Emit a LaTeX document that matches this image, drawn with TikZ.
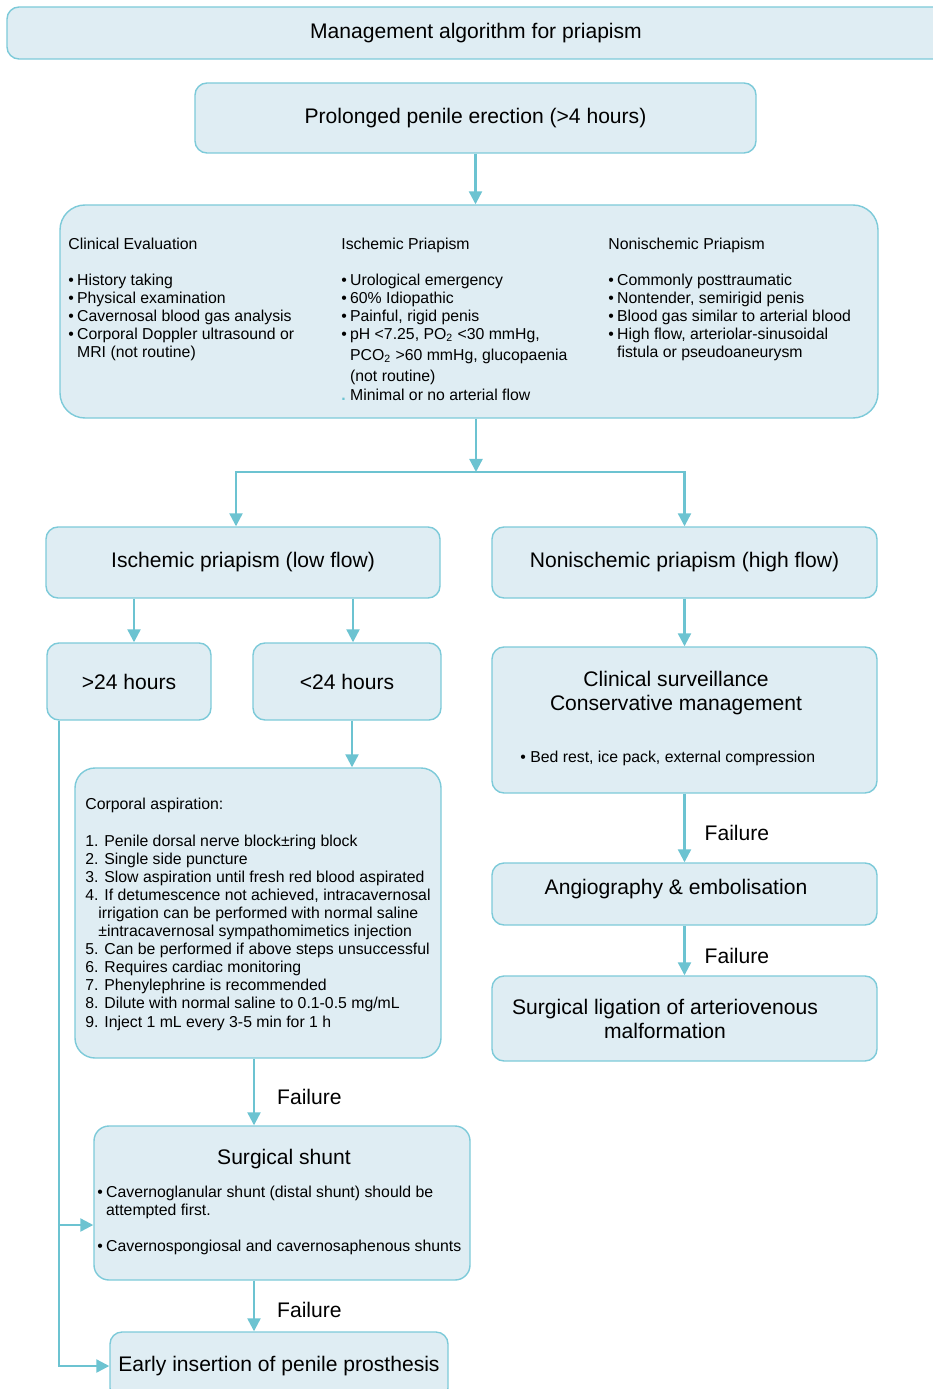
\documentclass[tikz,border=0pt]{standalone}
\usepackage{fontspec}
\setmainfont{Liberation Sans}
\usetikzlibrary{arrows.meta}
\definecolor{boxfill}{HTML}{DFEDF3}
\definecolor{boxline}{HTML}{7DCAD9}
\definecolor{flowline}{HTML}{6CC3D1}
\newcommand{\blt}{\makebox[5pt][l]{\textbullet}}
\begin{document}
\begin{tikzpicture}[
  box/.style={draw=boxline,fill=boxfill,line width=0.8pt,rounded corners=0.24cm,inner sep=0pt},
  big/.style={font=\fontsize{12}{13.6}\selectfont},
  small/.style={font=\fontsize{9}{10.2}\selectfont},
  flow/.style={draw=flowline,line width=1.3pt,-{Triangle[length=7.4pt,width=7.4pt]}},
  fail/.style={font=\fontsize{12}{13.6}\selectfont,inner sep=0pt}
]
\useasboundingbox (0,0) rectangle (18.66,-27.78);

\node[box,big,minimum width=18.76cm,minimum height=1.04cm] (title) at (9.52,-0.66) {Management algorithm for priapism};
\node[box,big,minimum width=11.22cm,minimum height=1.40cm] (onset) at (9.51,-2.36) {Prolonged penile erection (>4 hours)};

\node[box,rounded corners=0.5cm,minimum width=16.36cm,minimum height=4.26cm] (eval) at (9.38,-6.23) {};
\node[small,align=left,anchor=north west,inner sep=0pt] (evalA) at (1.36,-4.76) {Clinical Evaluation\\[10.2pt]
\blt History taking\\
\blt Physical examination\\
\blt Cavernosal blood gas analysis\\
\blt Corporal Doppler ultrasound or\\
\hspace*{5pt}MRI (not routine)};
\node[small,align=left,anchor=north west,inner sep=0pt] (evalB) at (6.82,-4.76) {Ischemic Priapism\\[10.2pt]
\blt Urological emergency\\
\blt 60\% Idiopathic\\
\blt Painful, rigid penis\\
\blt pH <7.25, PO\textsubscript{2} <30 mmHg,\\[1.7pt]
\hspace*{5pt}PCO\textsubscript{2} >60 mmHg, glucopaenia\\[1.7pt]
\hspace*{5pt}(not routine)\\[0.6pt]
\makebox[5pt][l]{\textcolor{flowline}{\textbf{.}}}Minimal or no arterial flow};
\node[small,align=left,anchor=north west,inner sep=0pt] (evalC) at (12.16,-4.76) {Nonischemic Priapism\\[10.2pt]
\blt Commonly posttraumatic\\
\blt Nontender, semirigid penis\\
\blt Blood gas similar to arterial blood\\
\blt High flow, arteriolar-sinusoidal\\
\hspace*{5pt}fistula or pseudoaneurysm};

\node[box,big,minimum width=7.88cm,minimum height=1.42cm] (isch) at (4.86,-11.25) {Ischemic priapism (low flow)};
\node[box,big,minimum width=7.70cm,minimum height=1.42cm] (nonisch) at (13.69,-11.25) {Nonischemic priapism (high flow)};
\node[box,big,minimum width=3.28cm,minimum height=1.54cm] (late) at (2.58,-13.63) {>24 hours};
\node[box,big,minimum width=3.76cm,minimum height=1.54cm] (early) at (6.94,-13.63) {<24 hours};

\node[box,rounded corners=0.4cm,minimum width=7.32cm,minimum height=5.80cm] (aspir) at (5.16,-18.26) {};
\node[font=\fontsize{9}{10.3}\selectfont,align=left,anchor=north west,inner sep=0pt] (aspirtext) at (1.70,-15.96) {Corporal aspiration:\\[10.3pt]
1. Penile dorsal nerve block±ring block\\
2. Single side puncture\\
3. Slow aspiration until fresh red blood aspirated\\
4. If detumescence not achieved, intracavernosal\\
\hspace*{7.4pt}irrigation can be performed with normal saline\\
\hspace*{7.4pt}±intracavernosal sympathomimetics injection\\
5. Can be performed if above steps unsuccessful\\
6. Requires cardiac monitoring\\
7. Phenylephrine is recommended\\
8. Dilute with normal saline to 0.1-0.5 mg/mL\\
9. Inject 1 mL every 3-5 min for 1 h};

\node[box,rounded corners=0.3cm,minimum width=7.52cm,minimum height=3.08cm] (shunt) at (5.64,-24.06) {};
\node[big,inner sep=0pt] (shunthead) at (5.68,-23.18) {Surgical shunt};
\node[small,align=left,anchor=north west,inner sep=0pt] (shunttext) at (1.94,-23.72) {\blt Cavernoglanular shunt (distal shunt) should be\\
\hspace*{5pt}attempted first.\\[10.2pt]
\blt Cavernospongiosal and cavernosaphenous shunts};

\node[box,big,minimum width=6.76cm,minimum height=1.36cm] (prosth) at (5.58,-27.32) {Early insertion of penile prosthesis};

\node[box,minimum width=7.70cm,minimum height=2.92cm] (surv) at (13.69,-14.40) {};
\node[big,align=center,inner sep=0pt] (survhead) at (13.52,-13.86) {Clinical surveillance\\Conservative management};
\node[small,anchor=west,inner sep=0pt] (survtext) at (10.40,-15.16) {\textbullet\ Bed rest, ice pack, external compression};

\node[box,minimum width=7.70cm,minimum height=1.24cm] (angio) at (13.69,-17.88) {};
\node[big,inner sep=0pt] (angiotext) at (13.52,-17.78) {Angiography \& embolisation};
\node[box,minimum width=7.70cm,minimum height=1.70cm] (ligat) at (13.69,-20.37) {};
\node[big,align=center,inner sep=0pt] (ligattext) at (13.30,-20.38) {Surgical ligation of arteriovenous\\malformation};

\coordinate (split) at (9.52,-9.44);
\draw[flow] (onset.south) -- (onset.south |- eval.north);
\draw[flow] (eval.south -| split) -- (split);
\draw[flow] (split) -| ([xshift=-0.14cm]isch.north);
\draw[flow] (split) -| (nonisch.north);
\draw[flow] ([xshift=0.1cm]late.north |- isch.south) -- ([xshift=0.1cm]late.north);
\draw[flow] ([xshift=0.12cm]early.north |- isch.south) -- ([xshift=0.12cm]early.north);
\draw[flow] ([xshift=0.1cm]early.south) -- ([xshift=0.1cm]early.south |- aspir.north);
\draw[flow] ([xshift=-0.08cm]aspir.south) -- ([xshift=-0.08cm]aspir.south |- shunt.north) node[fail,midway,anchor=west,xshift=0.44cm,yshift=-0.1cm] {Failure};
\draw[flow] ([xshift=-0.56cm]shunt.south) -- ([xshift=-0.56cm]shunt.south |- prosth.north) node[fail,midway,anchor=west,xshift=0.44cm,yshift=-0.08cm] {Failure};
\draw[flow] ([xshift=-1.4cm]late.south) |- ([yshift=-0.44cm]shunt.west);
\draw[flow] ([xshift=-1.4cm]late.south) |- (prosth.west);
\draw[flow] (nonisch.south) -- (surv.north);
\draw[flow] (surv.south) -- (angio.north) node[fail,midway,anchor=west,xshift=0.38cm,yshift=-0.1cm] {Failure};
\draw[flow] (angio.south) -- (ligat.north) node[fail,midway,anchor=west,xshift=0.38cm,yshift=-0.1cm] {Failure};

\end{tikzpicture}
\end{document}
